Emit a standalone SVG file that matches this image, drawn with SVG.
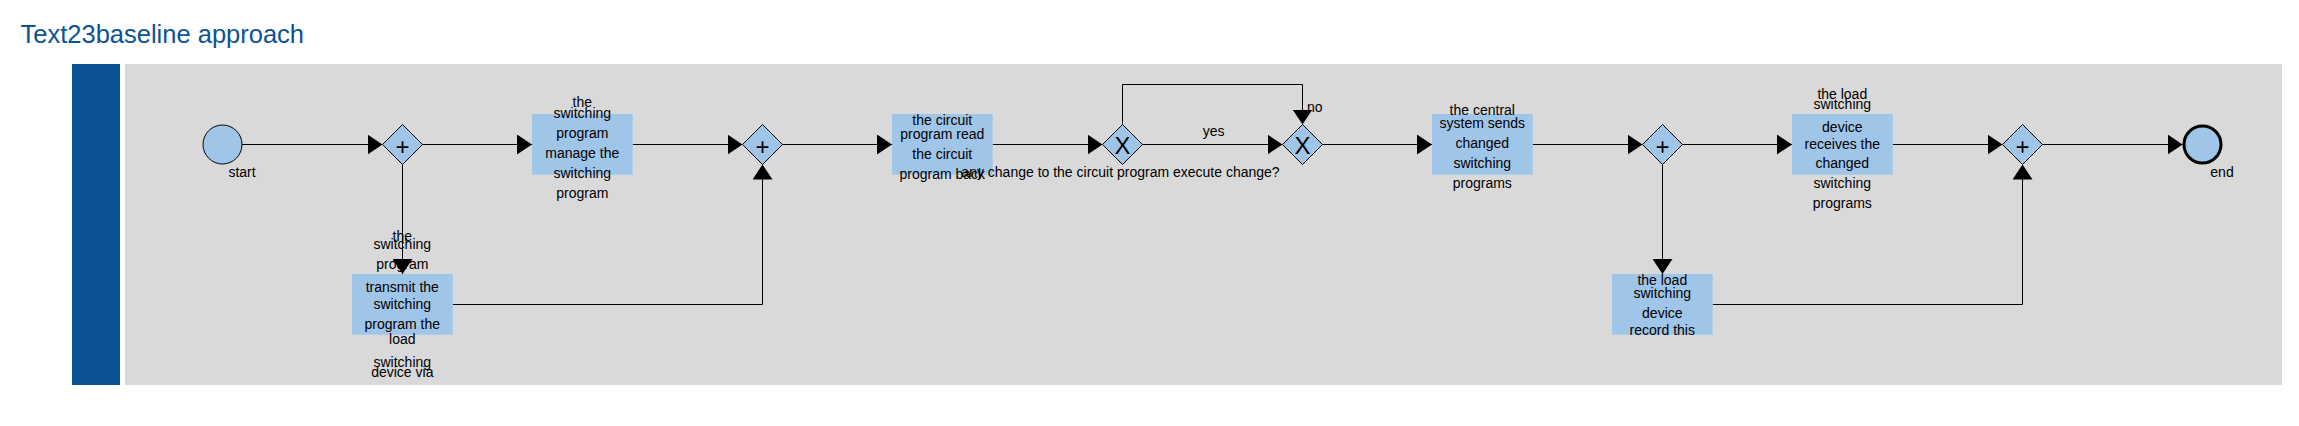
<svg xmlns="http://www.w3.org/2000/svg" width="2299" height="426" viewBox="0 0 2299 426">
<style>
.t{font-family:"Liberation Sans",Arial,sans-serif;font-size:14px;fill:#000;text-anchor:middle}
.lbl{font-family:"Liberation Sans",Arial,sans-serif;font-size:14px;fill:#000}
.task{fill:#9fc5e8;stroke:none}
.gw{fill:#9fc5e8;stroke:#000;stroke-width:1}
.sym{font-family:"Liberation Sans",Arial,sans-serif;font-size:24px;fill:#000;text-anchor:middle}
.flow{fill:none;stroke:#000;stroke-width:1;marker-end:url(#arr)}
</style>
<defs>
<marker id="arr" markerUnits="userSpaceOnUse" markerWidth="15" markerHeight="20" refX="15" refY="10" orient="auto" viewBox="0 0 15 20">
<path d="M0,0 L15,10 L0,20 z" fill="#000"/>
</marker>
</defs>
<rect width="2299" height="426" fill="#fff"/>
<text x="20.5" y="43" font-family="Liberation Sans, Arial, sans-serif" font-size="25.5" fill="#0b5394">Text23baseline approach</text>
<g id="pool">
<rect x="72" y="64" width="48" height="321" fill="#0b5394"/>
<rect x="125" y="64" width="2157" height="321" fill="#d9d9d9"/>
</g>
<g id="connectors">
<path class="flow" d="M242,144.5 H382.5"/>
<path class="flow" d="M422.5,144.5 H532"/>
<path class="flow" d="M402.5,164.5 V274"/>
<path class="flow" d="M632.7,144.5 H742.5"/>
<path class="flow" d="M452.7,304.5 H762.5 V164.5"/>
<path class="flow" d="M782.5,144.5 H892"/>
<path class="flow" d="M992.7,144.5 H1102.5"/>
<path class="flow" d="M1142.5,144.5 H1282.5"/>
<text class="t" x="1213.7" y="136">yes</text>
<path class="flow" d="M1122.5,124.5 V84.5 H1302.5 V124.5"/>
<text class="lbl" x="1307" y="111.7">no</text>
<path class="flow" d="M1322.5,144.5 H1432"/>
<path class="flow" d="M1532.7,144.5 H1642.5"/>
<path class="flow" d="M1682.5,144.5 H1792"/>
<path class="flow" d="M1662.5,164.5 V274"/>
<path class="flow" d="M1892.7,144.5 H2002.5"/>
<path class="flow" d="M1712.7,304.5 H2022.5 V164.5"/>
<path class="flow" d="M2042.5,144.5 H2182.7"/>
</g>
<g id="start">
<circle cx="222.5" cy="144.5" r="19.5" fill="#9fc5e8" stroke="#000" stroke-width="1"/>
<text class="t" x="242" y="177">start</text>
</g>
<g id="gw1">
<path class="gw" d="M382.5,144.5 L402.5,124.5 L422.5,144.5 L402.5,164.5 z"/>
<text class="sym" x="402.5" y="155">+</text>
</g>
<g id="task_manage">
<rect class="task" x="532" y="114" width="100.7" height="60.7"/>
<text class="t" x="582.3" y="107.3">the</text>
<text class="t" x="582.3" y="118.3">switching</text>
<text class="t" x="582.3" y="138.3">program</text>
<text class="t" x="582.3" y="158.3">manage the</text>
<text class="t" x="582.3" y="178.3">switching</text>
<text class="t" x="582.3" y="198.3">program</text>
</g>
<g id="task_transmit">
<rect class="task" x="352" y="274" width="100.7" height="60.7"/>
<text class="t" x="402.3" y="240.7">the</text>
<text class="t" x="402.3" y="249">switching</text>
<text class="t" x="402.3" y="268.7">program</text>
<text class="t" x="402.3" y="292">transmit the</text>
<text class="t" x="402.3" y="308.7">switching</text>
<text class="t" x="402.3" y="328.7">program the</text>
<text class="t" x="402.3" y="343.7">load</text>
<text class="t" x="402.3" y="366.7">switching</text>
<text class="t" x="402.3" y="376.7">device via</text>
</g>
<g id="gw2">
<path class="gw" d="M742.5,144.5 L762.5,124.5 L782.5,144.5 L762.5,164.5 z"/>
<text class="sym" x="762.5" y="155">+</text>
</g>
<g id="task_circuit">
<rect class="task" x="892" y="114" width="100.7" height="60.7"/>
<text class="t" x="942.3" y="125">the circuit</text>
<text class="t" x="942.3" y="139">program read</text>
<text class="t" x="942.3" y="159">the circuit</text>
<text class="t" x="942.3" y="179">program back</text>
</g>
<g id="xor1">
<path class="gw" d="M1102.5,144.5 L1122.5,124.5 L1142.5,144.5 L1122.5,164.5 z"/>
<text class="sym" x="1122.5" y="154.3">X</text>
<text class="t" x="1120.5" y="176.7">any change to the circuit program execute change?</text>
</g>
<g id="xor2">
<path class="gw" d="M1282.5,144.5 L1302.5,124.5 L1322.5,144.5 L1302.5,164.5 z"/>
<text class="sym" x="1302.5" y="154.3">X</text>
</g>
<g id="task_central">
<rect class="task" x="1432" y="114" width="100.7" height="60.7"/>
<text class="t" x="1482.3" y="115">the central</text>
<text class="t" x="1482.3" y="128.3">system sends</text>
<text class="t" x="1482.3" y="148.3">changed</text>
<text class="t" x="1482.3" y="168.3">switching</text>
<text class="t" x="1482.3" y="188.3">programs</text>
</g>
<g id="gw3">
<path class="gw" d="M1642.5,144.5 L1662.5,124.5 L1682.5,144.5 L1662.5,164.5 z"/>
<text class="sym" x="1662.5" y="155">+</text>
</g>
<g id="task_receives">
<rect class="task" x="1792" y="114" width="100.7" height="60.7"/>
<text class="t" x="1842.3" y="99">the load</text>
<text class="t" x="1842.3" y="109">switching</text>
<text class="t" x="1842.3" y="132.3">device</text>
<text class="t" x="1842.3" y="149">receives the</text>
<text class="t" x="1842.3" y="168.3">changed</text>
<text class="t" x="1842.3" y="188.3">switching</text>
<text class="t" x="1842.3" y="208.3">programs</text>
</g>
<g id="task_record">
<rect class="task" x="1612" y="274" width="100.7" height="60.7"/>
<text class="t" x="1662.3" y="285">the load</text>
<text class="t" x="1662.3" y="298.3">switching</text>
<text class="t" x="1662.3" y="318.3">device</text>
<text class="t" x="1662.3" y="335">record this</text>
</g>
<g id="gw4">
<path class="gw" d="M2002.5,144.5 L2022.5,124.5 L2042.5,144.5 L2022.5,164.5 z"/>
<text class="sym" x="2022.5" y="155">+</text>
</g>
<g id="end">
<circle cx="2202.5" cy="144.5" r="18.5" fill="#9fc5e8" stroke="#000" stroke-width="3"/>
<text class="t" x="2222" y="176.7">end</text>
</g>
</svg>
